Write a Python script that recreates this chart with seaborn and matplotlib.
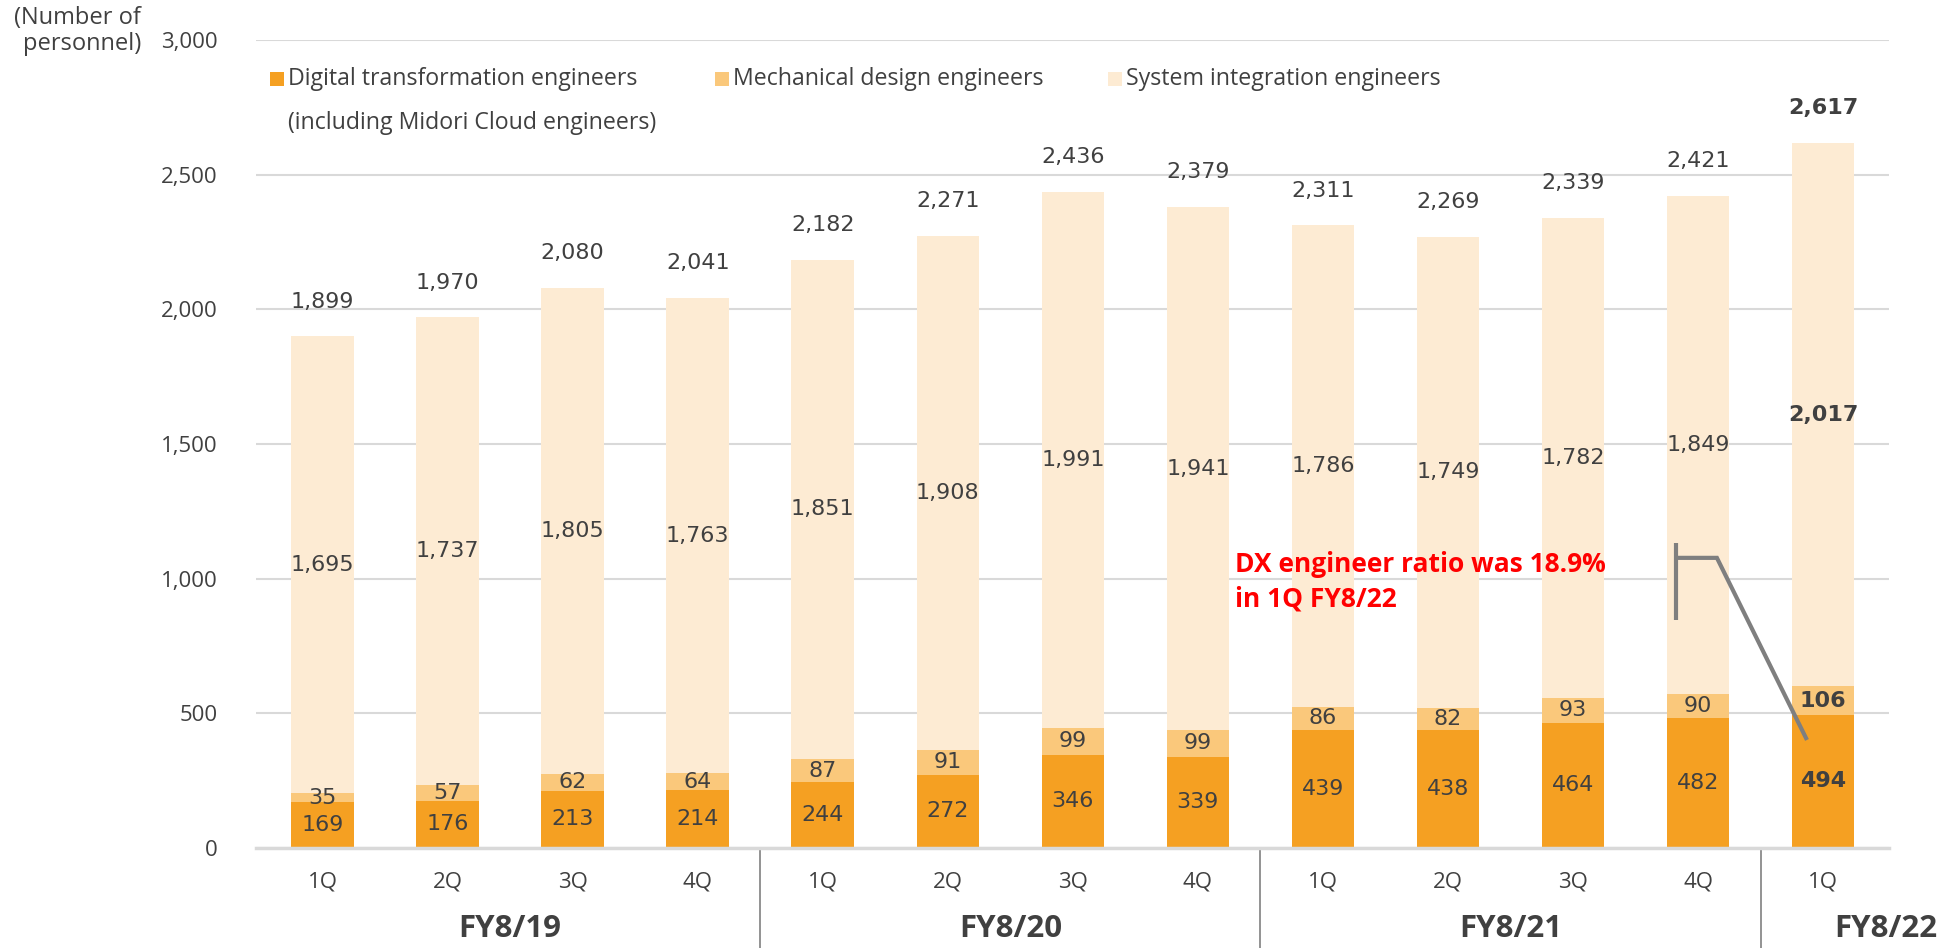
import matplotlib
matplotlib.use("Agg")
import matplotlib.pyplot as plt
import matplotlib.transforms as mtransforms
from matplotlib.patches import Rectangle
import seaborn as sns
import pandas as pd
import numpy as np

# ---- data ----
quarters = ["1Q", "2Q", "3Q", "4Q", "1Q", "2Q", "3Q", "4Q", "1Q", "2Q", "3Q", "4Q", "1Q"]
fiscal_years = ["FY8/19", "FY8/20", "FY8/21", "FY8/22"]
fy_of_bar = ["FY8/19"] * 4 + ["FY8/20"] * 4 + ["FY8/21"] * 4 + ["FY8/22"]
dx = [169, 176, 213, 214, 244, 272, 346, 339, 439, 438, 464, 482, 494]
mech = [35, 57, 62, 64, 87, 91, 99, 99, 86, 82, 93, 90, 106]
sysint = [1695, 1737, 1805, 1763, 1851, 1908, 1991, 1941, 1786, 1749, 1782, 1849, 2017]
totals = [1899, 1970, 2080, 2041, 2182, 2271, 2436, 2379, 2311, 2269, 2339, 2421, 2617]
series_names = ["Digital transformation engineers", "Mechanical design engineers",
                "System integration engineers"]
legend_note = "(including Midori Cloud engineers)"
y_label = "(Number of\npersonnel)"
callout = "DX engineer ratio was 18.9%\nin 1Q FY8/22"

C_DX = "#F5A022"
C_MECH = "#FAC87B"
C_SYS = "#FDEBD3"
TXT = "#404040"

sns.set_theme(style="white")
plt.rcParams["font.family"] = ["Open Sans", "DejaVu Sans"]

keys = [f"{q} {f}" for q, f in zip(quarters, fy_of_bar)]
df = pd.DataFrame({"key": keys, "dx": dx, "mech": mech, "sys": sysint})
df["dx_mech"] = df["dx"] + df["mech"]
df["total"] = df["dx_mech"] + df["sys"]

fig = plt.figure(figsize=(19.56, 9.48), dpi=100)
ax = fig.add_axes([0.131, 0.1055, 0.835, 0.8525])

ax.set_axisbelow(True)
ax.yaxis.grid(True, color="#D9D9D9", linewidth=1.5)

sns.barplot(data=df, x="key", y="total", color=C_SYS, saturation=1, width=0.5,
            linewidth=0, edgecolor="none", ax=ax, order=keys)
sns.barplot(data=df, x="key", y="dx_mech", color=C_MECH, saturation=1, width=0.5,
            linewidth=0, edgecolor="none", ax=ax, order=keys)
sns.barplot(data=df, x="key", y="dx", color=C_DX, saturation=1, width=0.5,
            linewidth=0, edgecolor="none", ax=ax, order=keys)

ax.set_ylim(0, 3000)
ax.set_xlim(-0.53, 12.53)
ax.set_yticks(np.arange(0, 3001, 500))
ax.set_yticklabels([f"{v:,}" for v in range(0, 3001, 500)], fontsize=16, color=TXT)
ax.set_xticks(range(len(quarters)))
ax.set_xticklabels(quarters, fontsize=16, color=TXT)
ax.tick_params(axis="x", length=0, pad=17)
ax.tick_params(axis="y", length=0, pad=28)
ax.set_xlabel("")
ax.set_ylabel("")
for s in ["top", "right", "left"]:
    ax.spines[s].set_visible(False)
ax.spines["bottom"].set_color("#D9D9D9")
ax.spines["bottom"].set_linewidth(2.5)

# value labels
num_font = ["DejaVu Sans"]
n = len(dx)
FS = 16
for i in range(n):
    last = i == n - 1
    fw = "bold" if last else "normal"
    ax.text(i, dx[i] / 2, f"{dx[i]:,}", ha="center", va="center", fontsize=FS,
            color=TXT, fontweight=fw, family=num_font)
    ax.text(i, dx[i] + mech[i] / 2, f"{mech[i]:,}", ha="center", va="center", fontsize=FS,
            color=TXT, fontweight=fw, family=num_font)
    ax.text(i, dx[i] + mech[i] + sysint[i] / 2, f"{sysint[i]:,}", ha="center", va="center",
            fontsize=FS, color=TXT, fontweight=fw, family=num_font)
    ax.annotate(f"{totals[i]:,}", xy=(i, totals[i]), xytext=(0, 25), textcoords="offset points",
                ha="center", va="center", fontsize=FS, color=TXT, fontweight=fw, family=num_font)

# separators and FY labels
trans = mtransforms.blended_transform_factory(ax.transData, ax.transAxes)
for xs in [3.5, 7.5, 11.5]:
    ax.plot([xs, xs], [0, -0.13], transform=trans, color="#808080", linewidth=1.2,
            clip_on=False)
for fy, xc in zip(fiscal_years, [1.5, 5.5, 9.5, 12.5]):
    ax.text(xc, -0.1, fy, transform=trans, ha="center", va="center", fontsize=22.5,
            fontweight="bold", color=TXT)

# y label
fig.text(141 / 1956, 1 - 31 / 948, y_label, ha="right", va="center", fontsize=17,
         color=TXT, linespacing=1.1)

# legend (manual, figure pixels)
W, H = 1956, 948
items = [(C_DX, 270, series_names[0]), (C_MECH, 715, series_names[1]),
         (C_SYS, 1108, series_names[2])]
for col, xm, name in items:
    fig.patches.append(Rectangle((xm / W, 1 - 86 / H), 14 / W, 14 / H, transform=fig.transFigure,
                                 facecolor=col, edgecolor="none"))
    fig.text((xm + 18) / W, 1 - 79 / H, name, ha="left", va="center", fontsize=16.7, color=TXT)
fig.text(288 / W, 1 - 123 / H, legend_note, ha="left", va="center", fontsize=16.7, color=TXT)

# callout
lines = callout.split("\n")
ax.text(7.30, 1054, lines[0], ha="left", va="center", fontsize=19,
        fontweight="bold", color="#FF0000")
ax.text(7.30, 925, lines[1], ha="left", va="center", fontsize=19,
        fontweight="bold", color="#FF0000")
ax.plot([10.82, 10.82], [847, 1132], color="#7F7F7F", linewidth=3, solid_capstyle="butt")
ax.plot([10.82, 11.15, 11.87], [1077, 1077, 401], color="#7F7F7F", linewidth=3,
        solid_capstyle="butt", solid_joinstyle="miter")

fig.savefig("out.png", dpi=100)
